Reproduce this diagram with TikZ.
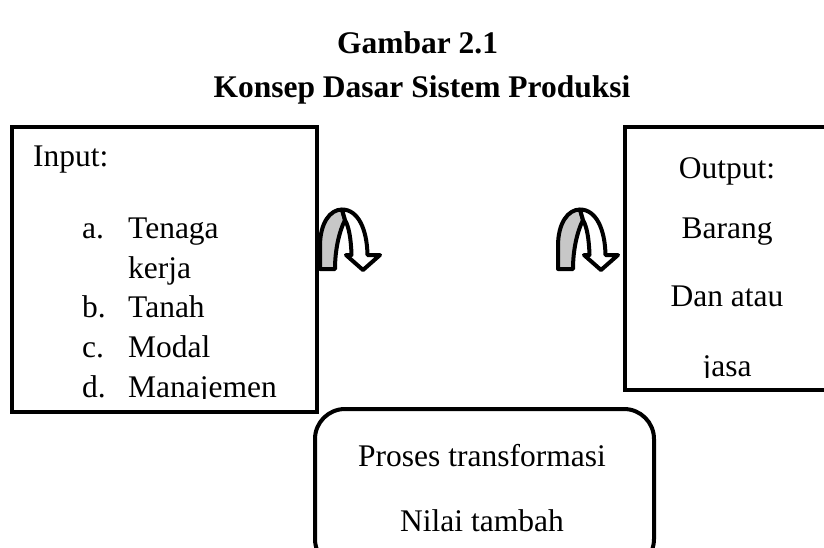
\documentclass[tikz,border=0pt]{standalone}
\usepackage{fontspec}
\setmainfont{Liberation Serif}
\begin{document}
\begin{tikzpicture}[x=1pt,y=-1pt,
  box/.style={draw, line width=4pt, inner sep=0pt},
  txt/.style={inner sep=0pt, font=\fontsize{31.5}{38}\selectfont},
  ttl/.style={inner sep=0pt, font=\fontsize{31.5}{38}\selectfont\bfseries},
  band/.style={draw, line width=4pt, line join=round},
  backband/.style={band, fill=black!22},
  frontband/.style={band, fill=white}
]
\useasboundingbox (0,0) rectangle (824,547);

% titles
\node[ttl, anchor=base] (t1) at (417.5,53) {Gambar 2.1};
\node[ttl, anchor=base] (t2) at (422,97) {Konsep Dasar Sistem Produksi};

% boxes
\node[box, anchor=north west, minimum width=305pt, minimum height=285pt] (inbox) at (10,125) {};
\node[box, anchor=north west, minimum width=208pt, minimum height=263pt] (outbox) at (623,125) {};
\node[box, anchor=north west, minimum width=339pt, minimum height=160pt, rounded corners=30pt] (procbox) at (313,407) {};

% input text
\begin{scope}
\clip (12,127) rectangle (313,398.5);
\node[txt, anchor=base west] (in0) at (33,166) {Input:};
\node[txt, anchor=base west] (la) at (82,238.5) {a.};
\node[txt, anchor=base west] (ia) at (128,238.5) {Tenaga};
\node[txt, anchor=base west] (ia2) at (128,278) {kerja};
\node[txt, anchor=base west] (lb) at (82,317.5) {b.};
\node[txt, anchor=base west] (ib) at (128,317.5) {Tanah};
\node[txt, anchor=base west] (lc) at (82,357) {c.};
\node[txt, anchor=base west] (ic) at (128,357) {Modal};
\node[txt, anchor=base west] (ld) at (82,397) {d.};
\node[txt, anchor=base west] (id) at (128,397) {Manajemen};
\end{scope}

% output text
\begin{scope}
\clip (625,127) rectangle (824,377.5);
\node[txt, anchor=base] (o0) at (727,178) {Output:};
\node[txt, anchor=base] (o1) at (727,238) {Barang};
\node[txt, anchor=base] (o2) at (727,306) {Dan atau};
\node[txt, anchor=base] (o3) at (727,376) {jasa};
\end{scope}

% process text
\node[txt, anchor=base] (p1) at (482,466) {Proses transformasi};
\node[txt, anchor=base] (p2) at (482,531) {Nilai tambah};

% curved arrows
\foreach \dx in {0,238}{
\begin{scope}[shift={(\dx,0)}]
\draw[backband] (320,269) -- (320,246) .. controls (320,223) and (330,209.5) .. (342,209.5)
  -- (345,220) .. controls (339,232) and (335,250) .. (335,269) -- cycle;
\draw[frontband] (342,209.5) .. controls (358,209.5) and (367,229) .. (367.5,255)
  -- (380,255) -- (363,270) -- (346,255) -- (351.5,255)
  .. controls (351,239) and (349,227) .. (345,220) -- cycle;
\end{scope}
}
\end{tikzpicture}
\end{document}
